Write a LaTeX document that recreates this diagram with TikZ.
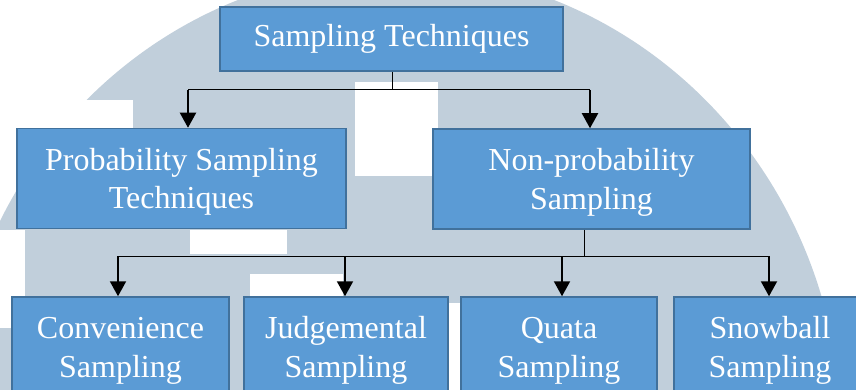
\documentclass[tikz,border=0pt]{standalone}
\usepackage{fontspec}
\setmainfont{Liberation Serif}
\usetikzlibrary{arrows.meta}
\definecolor{wm}{HTML}{C1CFDB}
\definecolor{boxfill}{HTML}{5B9BD5}
\definecolor{boxline}{HTML}{41719C}
\newcommand\mytstrut{\rule{0pt}{28.5pt}}
\begin{document}
\begin{tikzpicture}[x=1pt,y=-1pt,
  box/.style={draw=boxline, line width=1.5pt, fill=boxfill, text=white,
    font=\fontsize{32}{38.5}\selectfont, align=center, inner sep=0pt},
  twobox/.style={box, minimum height=100pt},
  conn/.style={line width=1pt},
  arr/.style={line width=2pt, -{Triangle[width=16pt,length=15pt]}}
]
\useasboundingbox (0,0) rectangle (856,390);
\clip (0,0) rectangle (856,390);
% watermark background
\fill[white] (0,0) rectangle (856,390);
\fill[wm] (396,432) ellipse [x radius=445, y radius=462];
\fill[white] (355,82) rectangle (438,176);
\fill[white] (0,100) rectangle (133,130);
\fill[white] (0,128) rectangle (17,150);
\fill[white] (190,230) rectangle (287,254);
\fill[white] (250,274) rectangle (343,297);
\fill[white] (0,230) rectangle (25,328);
\fill[white] (440,303) rectangle (470,400);

% boxes
\node[box, minimum width=343pt, minimum height=64pt] (top) at (391.5,39) {Sampling Techniques};
\node[twobox, minimum width=329pt] (prob) at (181.5,178.5) {\mytstrut Probability Sampling\\Techniques};
\node[twobox, minimum width=317pt] (np) at (591.5,179) {\mytstrut Non-probability\\Sampling};
\node[twobox, minimum width=217pt] (conv) at (120.5,347) {\mytstrut Convenience\\Sampling};
\node[twobox, minimum width=204pt] (judg) at (346,347) {\mytstrut Judgemental\\Sampling};
\node[twobox, minimum width=196pt] (quat) at (559,347) {\mytstrut Quata\\Sampling};
\node[twobox, minimum width=192pt] (snow) at (770,347) {\mytstrut Snowball\\Sampling};

% connectors level 1
\coordinate (j1) at (392,90);
\coordinate (l1) at (188,90);
\coordinate (r1) at (590,90);
\draw[conn] (j1 |- top.south) -- (j1);
\draw[conn] (l1) -- (r1);
\draw[arr] (l1) -- (l1 |- prob.north);
\draw[arr] (r1) -- (r1 |- np.north);

% connectors level 2
\coordinate (j2) at (584,256);
\coordinate (a1) at (118,256);
\coordinate (a2) at (345,256);
\coordinate (a3) at (562,256);
\coordinate (a4) at (769,256);
\draw[conn] (j2 |- np.south) -- (j2);
\draw[conn] (a1) -- (a4);
\draw[arr] (a1) -- (a1 |- conv.north);
\draw[arr] (a2) -- (a2 |- judg.north);
\draw[arr] (a3) -- (a3 |- quat.north);
\draw[arr] (a4) -- (a4 |- snow.north);
\end{tikzpicture}
\end{document}
